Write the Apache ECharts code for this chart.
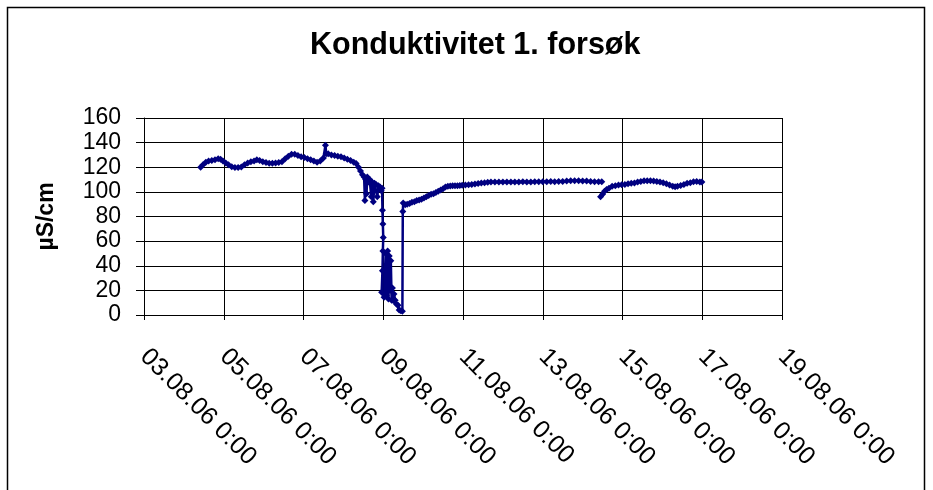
<!DOCTYPE html>
<html>
<head>
<meta charset="utf-8">
<script src="https://cdn.jsdelivr.net/npm/echarts@6/dist/echarts.min.js"></script>
<style>
  html, body { margin: 0; padding: 0; background: #fff; }
  #chart { width: 933px; height: 490px; }
</style>
</head>
<body>
<div id="chart"></div>
<script>
  // x = days since 03.08.06 0:00, y = µS/cm (null = gap in the logging)
  const dayOffsets = [
    1.42, 1.48, 1.55, 1.62, 1.70, 1.78, 1.86, 1.92, 1.98, 2.05, 2.12, 2.20, 2.28, 2.36, 2.44, 2.52,
    2.60, 2.68, 2.76, 2.83, 2.90, 2.98, 3.06, 3.14, 3.22, 3.30, 3.38, 3.46, 3.54, 3.62, 3.70, 3.78,
    3.86, 3.94, 4.02, 4.10, 4.18, 4.26, 4.34, 4.42, 4.50, 4.55, 4.57, 4.62, 4.70, 4.78, 4.86, 4.94,
    5.02, 5.10, 5.18, 5.26, 5.32, 5.38, 5.43, 5.48, 5.52,
    5.54, 5.56, 5.58, 5.60, 5.63, 5.66, 5.70, 5.72, 5.75, 5.78, 5.82, 5.85, 5.88, 5.92, 5.95, 5.97,
    5.98, 5.99, 6.00, 5.99, 5.98, 5.96, 6.02, 6.06, 6.08, 6.11, 6.13, 6.15, 6.17, 6.19, 6.21, 6.23,
    6.25, 6.27, 6.30, 6.33, 6.37, 6.40, 6.44, 6.48, 6.49, 6.50,
    6.55, 6.60, 6.66, 6.72, 6.78, 6.84, 6.90, 6.96, 7.02, 7.08, 7.14, 7.20, 7.26, 7.32, 7.38, 7.44,
    7.50, 7.56, 7.62, 7.68, 7.74, 7.80, 7.86, 7.92, 7.98, 8.06, 8.14, 8.22, 8.30, 8.38, 8.46, 8.54,
    8.62, 8.70, 8.80, 8.90, 9.00, 9.10, 9.20, 9.30, 9.40, 9.50, 9.60, 9.70, 9.80, 9.90, 10.00, 10.10,
    10.20, 10.30, 10.40, 10.50, 10.60, 10.70, 10.80, 10.90, 11.00, 11.10, 11.20, 11.30, 11.40, 11.48,
    11.47,
    11.45, 11.50, 11.55, 11.60, 11.66, 11.74, 11.82, 11.90, 11.98, 12.06, 12.14, 12.22, 12.30, 12.38,
    12.46, 12.54, 12.62, 12.70, 12.78, 12.86, 12.94, 13.02, 13.10, 13.18, 13.26, 13.32, 13.38, 13.46,
    13.54, 13.62, 13.70, 13.78, 13.86, 13.94, 13.99
  ];
  const conductivity = [
    120, 122, 124, 125, 125.5, 126, 127, 126.5, 125, 123.5, 122, 120.5, 119.8, 119.8, 120.2, 122,
    123.5, 124.5, 125, 126, 125.5, 124.5, 123.8, 123.2, 123.2, 123.5, 123.8, 124.5, 127, 129, 130.5, 130.5,
    129.5, 128.5, 128, 127, 126, 125, 124, 125, 127.5, 137.8, 131, 131, 130, 129.5, 129, 128.5,
    127.5, 126.5, 125.5, 124, 123, 120, 117, 114, 112,
    93, 110, 98.5, 112, 108, 110, 96, 108, 92, 107, 106, 96, 105, 104, 101, 103,
    85, 74, 63, 52, 36, 18.5, 14.5, 50, 16, 52, 13, 48, 20, 44, 12, 22,
    11.8, 17, 12, 9, 8, 4, 3.5, 3, 84, 91,
    89.5, 90, 90.5, 91.5, 92, 93, 93.5, 94, 95, 96, 97, 98, 98.5, 99.5, 100.5, 101.5,
    102.5, 104, 104.5, 104.8, 105, 105, 105, 105.2, 105.3, 105.5, 105.8, 106, 106.3, 106.8, 107.2, 107.5,
    107.8, 108, 108, 108, 108, 108, 108, 108, 108, 108.2, 108, 108, 108.2, 108.2, 108.2, 108.3,
    108.5, 108.3, 108.5, 108.5, 108.8, 109, 109, 109, 108.8, 108.8, 108.5, 108.3, 108.3, 108.3,
    null,
    96, 98, 100.5, 102, 103, 104.5, 105, 105.5, 105.8, 106, 106.5, 107, 107.3, 108,
    108.5, 109, 109, 109, 108.8, 108.5, 108, 107.5, 106.5, 105.5, 104.5, 104.2, 104.5, 105.2,
    106, 107, 107.5, 108.2, 108.5, 108, 108
  ];
  const xTickLabels = [
    '03.08.06 0:00', '05.08.06 0:00', '07.08.06 0:00', '09.08.06 0:00', '11.08.06 0:00',
    '13.08.06 0:00', '15.08.06 0:00', '17.08.06 0:00', '19.08.06 0:00'
  ];
  const titleText = 'Konduktivitet 1. forsøk';
  const yName = 'µS/cm';

  const font = "'Liberation Sans', Arial, sans-serif";
  const seriesData = dayOffsets.map((d, i) => [d, conductivity[i] === null ? '-' : conductivity[i]]);

  const myChart = echarts.init(document.getElementById('chart'), null, { renderer: 'canvas' });
  myChart.setOption({
    animation: false,
    title: {
      text: titleText,
      left: 305,
      top: 25,
      textStyle: { fontFamily: font, fontSize: 30.5, fontWeight: 'bold', color: '#000' }
    },
    graphic: [{
      type: 'rect',
      shape: { x: 7.5, y: 7.5, width: 917, height: 500 },
      style: { fill: 'none', stroke: '#000', lineWidth: 1.5 },
      silent: true
    }],
    grid: { left: 144, right: 151, top: 118, bottom: 175 },
    xAxis: {
      type: 'value',
      min: 0,
      max: 16,
      interval: 2,
      axisLine: { lineStyle: { color: '#000', width: 1 } },
      axisTick: { show: true, length: 5, lineStyle: { color: '#000' } },
      splitLine: { show: true, lineStyle: { color: '#000', width: 1 } },
      axisLabel: {
        rotate: -45,
        margin: 38,
        fontFamily: font,
        fontSize: 25,
        color: '#000',
        formatter: v => xTickLabels[Math.round(v / 2)]
      }
    },
    yAxis: {
      type: 'value',
      min: 0,
      max: 160,
      interval: 20,
      name: yName,
      nameLocation: 'middle',
      nameGap: 86,
      nameTextStyle: { fontFamily: font, fontSize: 23, fontWeight: 'bold', color: '#000' },
      axisLine: { show: true, lineStyle: { color: '#000', width: 1 } },
      axisTick: { show: true, length: 8, lineStyle: { color: '#000' } },
      splitLine: { show: true, lineStyle: { color: '#000', width: 1 } },
      axisLabel: { margin: 23, fontFamily: font, fontSize: 23, color: '#000' }
    },
    series: [{
      type: 'line',
      data: seriesData,
      connectNulls: false,
      symbol: 'diamond',
      symbolSize: 7,
      showAllSymbol: true,
      itemStyle: { color: '#000080' },
      lineStyle: { color: '#000080', width: 2.5 }
    }]
  });
</script>
</body>
</html>
